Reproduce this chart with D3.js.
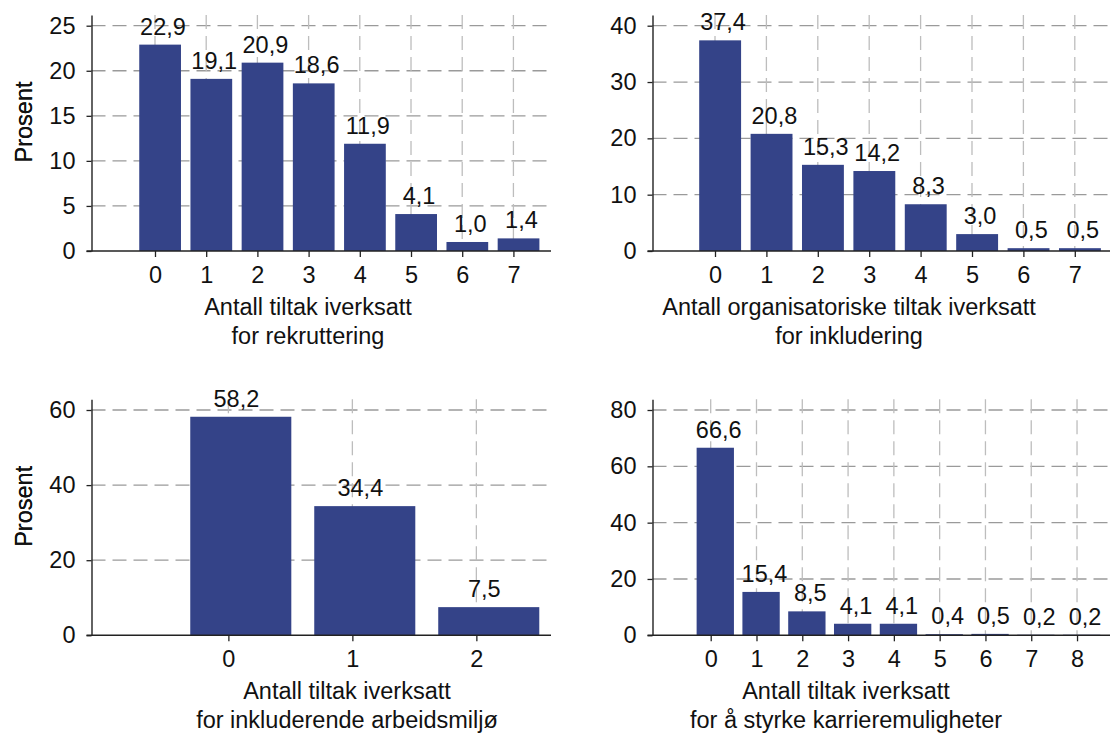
<!DOCTYPE html>
<html>
<head>
<meta charset="utf-8">
<script src="https://cdn.jsdelivr.net/npm/d3@7"></script>
<style>
  html, body { margin: 0; padding: 0; background: #fff; }
  svg { display: block; }
  text { font-family: "Liberation Sans", Arial, Helvetica, sans-serif; fill: #111; }
</style>
</head>
<body>
<svg id="chart" width="1110" height="733"></svg>
<script>
// Number of measures implemented (categories) and share of firms in percent
const recruitCats = [0, 1, 2, 3, 4, 5, 6, 7];
const recruitValues = [22.9, 19.1, 20.9, 18.6, 11.9, 4.1, 1.0, 1.4];
const recruitYTicks = [0, 5, 10, 15, 20, 25];
const recruitTitle = ["Antall tiltak iverksatt", "for rekruttering"];

const orgCats = [0, 1, 2, 3, 4, 5, 6, 7];
const orgValues = [37.4, 20.8, 15.3, 14.2, 8.3, 3.0, 0.5, 0.5];
const orgYTicks = [0, 10, 20, 30, 40];
const orgTitle = ["Antall organisatoriske tiltak iverksatt", "for inkludering"];

const envCats = [0, 1, 2];
const envValues = [58.2, 34.4, 7.5];
const envYTicks = [0, 20, 40, 60];
const envTitle = ["Antall tiltak iverksatt", "for inkluderende arbeidsmiljø"];

const careerCats = [0, 1, 2, 3, 4, 5, 6, 7, 8];
const careerValues = [66.6, 15.4, 8.5, 4.1, 4.1, 0.4, 0.5, 0.2, 0.2];
const careerYTicks = [0, 20, 40, 60, 80];
const careerTitle = ["Antall tiltak iverksatt", "for å styrke karrieremuligheter"];

const yLabel = "Prosent";

// Panel frames (pixels) and x extent in category units
const panels = [
  { cats: recruitCats, values: recruitValues, yTicks: recruitYTicks, title: recruitTitle,
    left: 91.5, right: 551, base: 251, xDomain: [-1.24, 7.734], titleX: 308 },
  { cats: orgCats, values: orgValues, yTicks: orgYTicks, title: orgTitle,
    left: 652.5, right: 1110, base: 251, xDomain: [-1.216, 7.685], titleX: 849 },
  { cats: envCats, values: envValues, yTicks: envYTicks, title: envTitle,
    left: 91.5, right: 551, base: 635.3, xDomain: [-1.104, 2.602], titleX: 347 },
  { cats: careerCats, values: careerValues, yTicks: careerYTicks, title: careerTitle,
    left: 652.5, right: 1110, base: 635.3, xDomain: [-1.271, 8.72], titleX: 846 }
];

const BAR_COLOR = "#344388";
const FONT_SIZE = 23.5;
const PLOT_H = 236;       // height of the y axis line
const TICK_SPAN = 225.3;  // pixel distance from 0 to the highest tick
const BAR_SHIFT = 0.1;    // bars sit slightly right of their tick
const BAR_WIDTH = 0.815;

const fmt = v => d3.format(".1f")(v).replace(".", ",");
const svg = d3.select("#chart");

panels.forEach(p => {
  const g = svg.append("g");
  const maxTick = d3.max(p.yTicks);
  const top = p.base - PLOT_H;

  const x = d3.scaleLinear().domain(p.xDomain).range([p.left, p.right]);
  const y = d3.scaleLinear()
    .domain([0, maxTick * PLOT_H / TICK_SPAN])
    .range([p.base, top]);

  // horizontal grid
  g.append("g").selectAll("line")
    .data(p.yTicks.filter(t => t > 0))
    .join("line")
    .attr("x1", p.left).attr("x2", p.right)
    .attr("y1", d => y(d)).attr("y2", d => y(d))
    .attr("stroke", "#9a9a9a").attr("stroke-width", 1.3)
    .attr("stroke-dasharray", "14,7");

  // vertical grid
  g.append("g").selectAll("line")
    .data(p.cats)
    .join("line")
    .attr("x1", d => x(d)).attr("x2", d => x(d))
    .attr("y1", top).attr("y2", p.base)
    .attr("stroke", "#bdbdbd").attr("stroke-width", 1.3)
    .attr("stroke-dasharray", "14,7");

  // bars
  g.append("g").selectAll("rect")
    .data(p.cats.map((c, i) => ({ c, v: p.values[i] })))
    .join("rect")
    .attr("x", d => x(d.c + BAR_SHIFT - BAR_WIDTH / 2))
    .attr("width", d => x(d.c + BAR_SHIFT + BAR_WIDTH / 2) - x(d.c + BAR_SHIFT - BAR_WIDTH / 2))
    .attr("y", d => y(d.v))
    .attr("height", d => y(0) - y(d.v))
    .attr("fill", BAR_COLOR);

  // value labels
  g.append("g").selectAll("text")
    .data(p.cats.map((c, i) => ({ c, v: p.values[i] })))
    .join("text")
    .attr("x", d => x(d.c) + 8)
    .attr("y", d => y(d.v) - 10)
    .attr("text-anchor", "middle")
    .attr("font-size", FONT_SIZE)
    .text(d => fmt(d.v));

  // y axis
  const yAxis = g.append("g")
    .attr("transform", `translate(${p.left},0)`)
    .call(d3.axisLeft(y).tickValues(p.yTicks).tickSize(5).tickPadding(11).tickSizeOuter(0));
  // x axis
  const xAxis = g.append("g")
    .attr("transform", `translate(0,${p.base})`)
    .call(d3.axisBottom(x).tickValues(p.cats).tickFormat(d3.format("d"))
      .tickSize(6).tickPadding(9.5).tickSizeOuter(0));

  [yAxis, xAxis].forEach(a => {
    a.attr("font-size", FONT_SIZE).attr("font-family", null);
    a.selectAll("path.domain").attr("stroke", "#222").attr("stroke-width", 1.4);
    a.selectAll(".tick line").attr("stroke", "#222").attr("stroke-width", 1.3);
    a.selectAll(".tick text").attr("fill", "#111");
  });
  // x axis line continues under the y tick stubs
  xAxis.select("path.domain").attr("d", `M${p.left - 5},0H${p.right}`);

  // y axis title
  g.append("text")
    .attr("transform", `translate(32,${p.base - 129}) rotate(-90)`)
    .attr("text-anchor", "middle")
    .attr("font-size", FONT_SIZE)
    .text(yLabel);

  // x axis title, two lines
  g.append("g").selectAll("text")
    .data(p.title)
    .join("text")
    .attr("x", p.titleX)
    .attr("y", (d, i) => p.base + 64 + i * 29)
    .attr("text-anchor", "middle")
    .attr("font-size", FONT_SIZE)
    .text(d => d);
});
</script>
</body>
</html>
